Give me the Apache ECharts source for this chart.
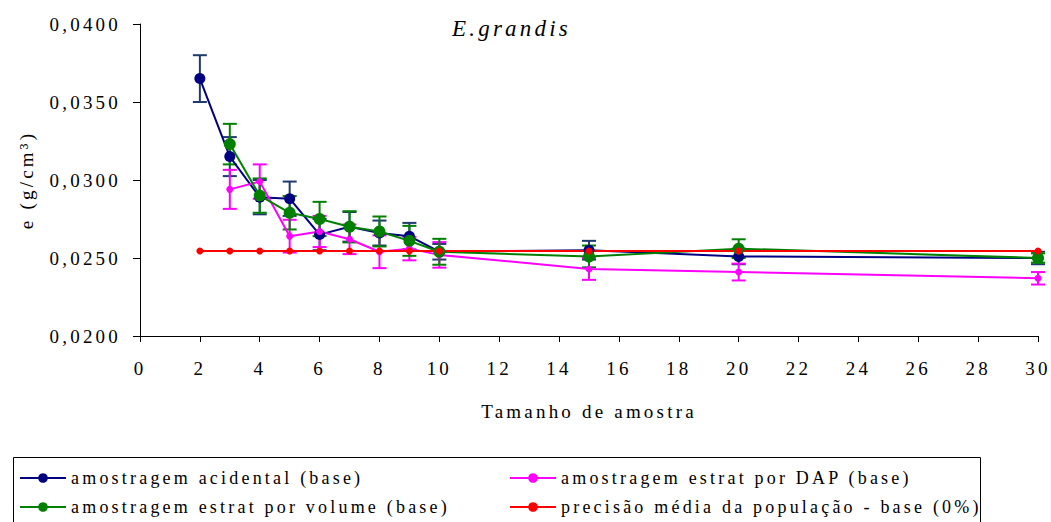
<!DOCTYPE html>
<html>
<head>
<meta charset="utf-8">
<script src="https://cdn.jsdelivr.net/npm/echarts@6/dist/echarts.min.js"></script>
<style>
  html, body { margin: 0; padding: 0; background: #fff; }
  #chart { width: 1051px; height: 522px; }
  /* the original plot spaces its glyphs out */
  #chart text { letter-spacing: 3.2px; }
</style>
</head>
<body>
<div id="chart"></div>
<script>
// sample sizes
const sizes = [2, 3, 4, 5, 6, 7, 8, 9, 10, 15, 20, 30];
const sizesNo2 = [3, 4, 5, 6, 7, 8, 9, 10, 15, 20, 30];

// amostragem acidental (base)
const acidental = [0.0365, 0.0315, 0.0289, 0.0288, 0.0265, 0.0270, 0.0266, 0.0264, 0.0254, 0.0255, 0.0251, 0.0250];
const acidentalErr = [0.0015, 0.00125, 0.0011, 0.0011, 0.0010, 0.00095, 0.0008, 0.00085, 0.0005, 0.0006, 0.0005, 0.0004];

// amostragem estrat por DAP (base)
const dap = [0.0294, 0.0299, 0.0264, 0.0267, 0.0262, 0.0254, 0.0256, 0.0252, 0.0243, 0.0241, 0.0237];
const dapErr = [0.00125, 0.0011, 0.00105, 0.001, 0.00095, 0.00105, 0.00075, 0.00082, 0.0007, 0.00054, 0.0004];

// amostragem estrat por volume (base)
const volume = [0.0323, 0.0290, 0.0279, 0.0275, 0.0270, 0.0267, 0.0261, 0.0254, 0.0251, 0.0256, 0.0250];
const volumeErr = [0.0013, 0.0011, 0.00107, 0.0011, 0.0010, 0.00096, 0.00096, 0.00083, 0.0007, 0.0006, 0.0003];

// precisão média da população - base (0%)
const populacao = [0.02545, 0.02545, 0.02545, 0.02545, 0.02545, 0.02545, 0.02545, 0.02545, 0.02545, 0.02545, 0.02545, 0.02545];

const yTicks = [0.02, 0.025, 0.03, 0.035, 0.04];

const names = [
  "amostragem acidental (base)",
  "amostragem estrat por DAP (base)",
  "amostragem estrat por volume (base)",
  "precisão média da população - base (0%)"
];

const font = "Liberation Serif";

function pairs(xs, ys) {
  return xs.map((x, i) => [x, ys[i]]);
}
function errPairs(xs, ys, es) {
  return xs.map((x, i) => [x, ys[i], es[i]]);
}

function errorSeries(data, color) {
  return {
    type: "custom",
    z: 1,
    silent: true,
    encode: { x: 0, y: 1 },
    data: data,
    renderItem: function (params, api) {
      const x = api.value(0);
      const y = api.value(1);
      const e = api.value(2);
      const hi = api.coord([x, y + e]);
      const lo = api.coord([x, y - e]);
      const w = 7;
      const style = { stroke: color, lineWidth: 2 };
      return {
        type: "group",
        children: [
          { type: "line", shape: { x1: hi[0], y1: hi[1], x2: lo[0], y2: lo[1] }, style: style },
          { type: "line", shape: { x1: hi[0] - w, y1: hi[1], x2: hi[0] + w, y2: hi[1] }, style: style },
          { type: "line", shape: { x1: lo[0] - w, y1: lo[1], x2: lo[0] + w, y2: lo[1] }, style: style }
        ]
      };
    }
  };
}

function lineSeries(name, data, color, size) {
  return {
    name: name,
    type: "line",
    z: 3,
    data: data,
    symbol: "circle",
    symbolSize: size,
    itemStyle: { color: color },
    lineStyle: { color: color, width: 2 },
    animation: false
  };
}

const chart = echarts.init(document.getElementById("chart"), null, { renderer: "svg" });

const legendText = { fontFamily: font, fontSize: 18, color: "#000" };

chart.setOption({
  animation: false,
  textStyle: { fontFamily: font, color: "#000" },
  title: {
    text: "E.grandis",
    left: 447,
    top: 12,
    textStyle: { fontFamily: font, fontStyle: "italic", fontWeight: "normal", fontSize: 23, color: "#000" }
  },
  grid: { left: 140, right: 13, top: 24, bottom: 186 },
  legend: [
    {
      orient: "vertical",
      left: 14,
      top: 464,
      itemWidth: 46,
      itemHeight: 12,
      itemGap: 11,
      data: [names[0], names[2]],
      textStyle: legendText
    },
    {
      orient: "vertical",
      left: 504,
      top: 464,
      itemWidth: 46,
      itemHeight: 12,
      itemGap: 11,
      data: [names[1], names[3]],
      textStyle: legendText
    }
  ],
  graphic: [
    {
      type: "rect",
      left: 11,
      top: 455,
      shape: { width: 967, height: 70 },
      style: { fill: "none", stroke: "#000", lineWidth: 1 }
    }
  ],
  xAxis: {
    type: "value",
    min: 0,
    max: 30,
    interval: 2,
    name: "Tamanho de amostra",
    nameLocation: "middle",
    nameGap: 66,
    nameTextStyle: { fontFamily: font, fontSize: 19, color: "#000" },
    axisLine: { lineStyle: { color: "#000", width: 1 } },
    axisTick: { show: true, inside: false, length: 6, lineStyle: { color: "#000" } },
    axisLabel: { fontFamily: font, fontSize: 19, color: "#000", margin: 23 },
    splitLine: { show: false }
  },
  yAxis: {
    type: "value",
    min: yTicks[0],
    max: yTicks[yTicks.length - 1],
    interval: 0.005,
    name: "e (g/cm³)",
    nameLocation: "middle",
    nameRotate: 90,
    nameGap: 104,
    nameTextStyle: { fontFamily: font, fontSize: 19, color: "#000" },
    axisLine: { show: true, lineStyle: { color: "#000", width: 1 } },
    axisTick: { show: true, inside: false, length: 7, lineStyle: { color: "#000" } },
    axisLabel: {
      fontFamily: font,
      fontSize: 19,
      color: "#000",
      margin: 19,
      formatter: function (v) { return v.toFixed(4).replace(".", ","); }
    },
    splitLine: { show: false }
  },
  series: [
    errorSeries(errPairs(sizes, acidental, acidentalErr), "#1f3a6e"),
    lineSeries(names[0], pairs(sizes, acidental), "#000080", 11),
    errorSeries(errPairs(sizesNo2, dap, dapErr), "#ff00ff"),
    lineSeries(names[1], pairs(sizesNo2, dap), "#ff00ff", 7),
    errorSeries(errPairs(sizesNo2, volume, volumeErr), "#008000"),
    lineSeries(names[2], pairs(sizesNo2, volume), "#008000", 12),
    lineSeries(names[3], pairs(sizes, populacao), "#ff0000", 7)
  ]
});
</script>
</body>
</html>
